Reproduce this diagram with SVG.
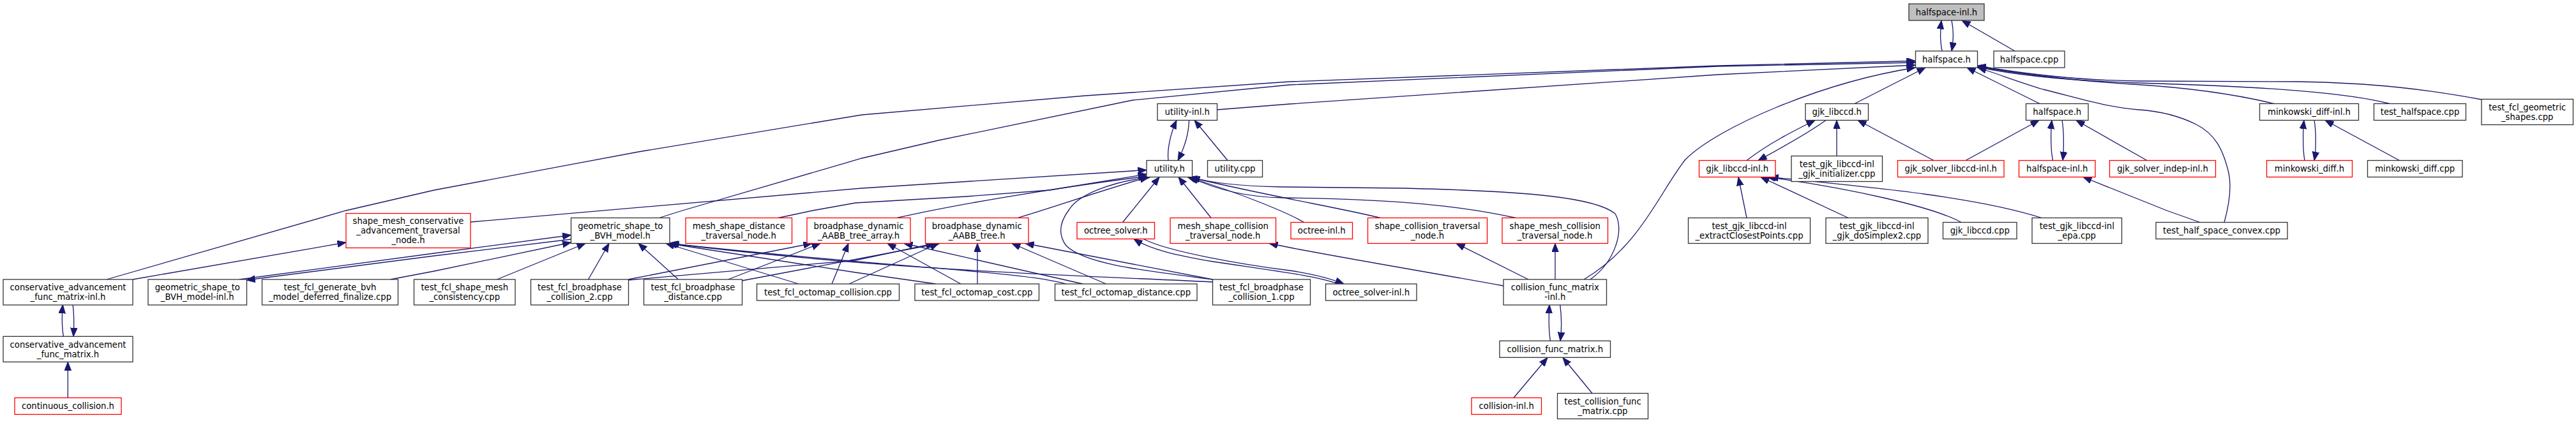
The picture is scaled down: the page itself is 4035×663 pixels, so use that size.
<svg xmlns="http://www.w3.org/2000/svg" width="4035" height="663" viewBox="0 0 4035 663">
<style>
.node rect{fill:#fff;stroke:#333;stroke-width:1.3}
.red rect{stroke:#ff0000}
.root rect{fill:#bfbfbf}
.node text{font-family:"DejaVu Sans",sans-serif;font-size:13.2px;text-anchor:middle;fill:#000}
.edges path{fill:none;stroke:#191970;stroke-width:1.3;marker-end:url(#a)}
</style>
<defs>
<marker id="a" markerUnits="userSpaceOnUse" markerWidth="15" markerHeight="12" refX="13.5" refY="5.25" orient="auto"><path d="M0,0 L13.5,5.25 L0,10.5 z" fill="#191970" stroke="#191970" stroke-width="1"/></marker>
</defs>
<rect width="4035" height="663" fill="#fff"/>
<g class="edges">
<path d="M3042,80 C3039,66 3039,48 3041,32"/>
<path d="M3057,32 C3060,46 3060,64 3057,80"/>
<path d="M3156,80 L3073,32"/>
<path d="M167,438 L542,330 L680,298 L1000,238 L1350,180 L1700,150 L2020,128 L2690,103 L3000,95.5"/>
<path d="M1034,341 L1069,330 L1350,248 L1470,220 L1774,157 L2020,133 L2690,104 L3000,98"/>
<path d="M1906,172 L2020,163 L2690,117 L3000,102"/>
<path d="M2481,438 C2570,385 2600,300 2640,250 C2690,200 2850,130 3000,106"/>
<path d="M2905,162.5 L3016,106"/>
<path d="M3195,162.5 L3081,106"/>
<path d="M3562,162.5 Q3470,140 3340,132 T3097,104"/>
<path d="M3743,162.5 C3680,146 3560,136 3350,130 C3250,127 3160,118 3097,105"/>
<path d="M3887,156 C3800,140 3720,130 3600,128 L3350,127 C3250,126 3160,114 3097,103"/>
<path d="M3484,348.5 C3492,320 3496,290 3490,267 C3482,235 3470,210 3440,195 C3410,180 3380,174 3350,172 C3300,168 3260,155 3200,140 C3160,128 3130,116 3098,106"/>
<path d="M2736,251.5 C2770,225 2810,205 2843,188.5"/>
<path d="M2860,188.5 C2830,210 2790,232 2754,251.5"/>
<path d="M2877,244.5 L2877,188.5"/>
<path d="M3029,251.5 L2910,188.5"/>
<path d="M3079,251.5 L3194,188.5"/>
<path d="M3215.5,251.5 C3212,235 3212,205 3214,188.5"/>
<path d="M3230,188.5 C3233,205 3233,235 3231,251.5"/>
<path d="M3363,251.5 L3252,188.5"/>
<path d="M3610,251.5 C3607,235 3607,205 3609,188.5"/>
<path d="M3625,188.5 C3628,205 3628,235 3625,251.5"/>
<path d="M3758.5,251.5 L3642,188.5"/>
<path d="M3446,348.5 L3394,330 L3263,277.5"/>
<path d="M2736,341.5 L2723,277.5"/>
<path d="M2895,341.5 L2758,277.5"/>
<path d="M3072,348.5 C3030,325 2900,295 2768,277.5"/>
<path d="M3198,341.5 C3100,310 2950,295 2772,277.5"/>
<path d="M1830,251.5 C1828,235 1833,210 1843,188.5"/>
<path d="M1862.5,188.5 C1862,210 1855,232 1845,251.5"/>
<path d="M1923,251.5 L1871,188.5"/>
<path d="M737,348 L1350,295 L1796,266.5"/>
<path d="M1219,341.5 L1273,330 L1340,318 L1513,308 L1644,298 L1796,273"/>
<path d="M1405,341.5 C1500,320 1650,295 1797,276"/>
<path d="M1594,341.5 C1650,325 1720,300 1799,277.5"/>
<path d="M1758.5,348.5 L1816,277.5"/>
<path d="M1897,341.5 L1846,277.5"/>
<path d="M1899.5,438 C1800,425 1700,415 1670,385 C1655,365 1662,345 1675,328 C1690,305 1740,285 1802,277.5"/>
<path d="M2042.5,348.5 C2020,335 1950,305 1860,277.5"/>
<path d="M2162,341.5 C2100,326 2000,310 1862,277.5"/>
<path d="M2374,341.5 C2300,325 2200,312 2010,310 C1950,309 1900,295 1864,277.5"/>
<path d="M2491,438 C2530,410 2545,360 2530,335 C2500,310 2400,300 2200,295 L2010,293 C1950,292 1900,288 1866,277.5"/>
<path d="M2394,438 L2281,381.5"/>
<path d="M2436,438 L2436,381.5"/>
<path d="M2355,448 C2200,420 2050,395 1988,381.5"/>
<path d="M2428.5,534.3 C2426,520 2426,495 2427,477.7"/>
<path d="M2443.7,477.7 C2446,495 2446,518 2444,534.3"/>
<path d="M2371,623.5 L2424,560.5"/>
<path d="M2494,616.5 L2448,560.5"/>
<path d="M99.3,527.3 C97,512 97,492 98.4,477.7"/>
<path d="M114,477.7 C116,492 116,512 115,527.3"/>
<path d="M106.3,623.5 L106.3,567.3"/>
<path d="M208,438 L542,380"/>
<path d="M375,438 L680,397 L894.5,368.5"/>
<path d="M894.5,375 L680,401 L386,439"/>
<path d="M611.5,438 L680,425 L894.5,380"/>
<path d="M778.4,438 L917,381.5"/>
<path d="M921.5,438 L954,381.5"/>
<path d="M1062.5,438 L1000,381.5"/>
<path d="M1251,445 L1043,381.5"/>
<path d="M1466,445 L1340,427 L1046,381.5"/>
<path d="M1670,445 C1600,425 1400,420 1048,381.5"/>
<path d="M1900,442 C1700,432 1400,425 1050,381.5"/>
<path d="M984,438 L1272,381.5"/>
<path d="M1140.6,438 L1285,381.5"/>
<path d="M1303,445 L1329,381.5"/>
<path d="M1505,445 L1390,381.5"/>
<path d="M1696,445 L1416,381.5"/>
<path d="M984,439 L1340,408 L1464,381.5"/>
<path d="M1162,440 L1472,381.5"/>
<path d="M1330,445 L1470,381.5"/>
<path d="M1531,445 L1531,381.5"/>
<path d="M1732.5,445 L1585,381.5"/>
<path d="M1899.5,438 L1606,381.5"/>
<path d="M2096,445 C2060,432 2000,425 1900,410 C1840,400 1800,390 1776,374.5"/>
<path d="M1791,374.5 C1830,395 1950,415 2020,424 C2060,430 2085,437 2105,445"/>
</g>
<g id="n_root" class="node root"><rect x="2990" y="6" width="118" height="26"/><text x="3049" y="23.7">halfspace-inl.h</text></g>
<g id="n_hs_h" class="node"><rect x="3000.5" y="80" width="97" height="26"/><text x="3049" y="97.7">halfspace.h</text></g>
<g id="n_hs_cpp" class="node"><rect x="3123" y="80" width="111" height="26"/><text x="3178.5" y="97.7">halfspace.cpp</text></g>
<g id="n_util_inl" class="node"><rect x="1813" y="162.5" width="93.5" height="26"/><text x="1859.75" y="180.2">utility-inl.h</text></g>
<g id="n_gjk_h" class="node"><rect x="2828" y="162.5" width="98.5" height="26"/><text x="2877.25" y="180.2">gjk_libccd.h</text></g>
<g id="n_hs2_h" class="node"><rect x="3173.5" y="162.5" width="97.5" height="26"/><text x="3222.25" y="180.2">halfspace.h</text></g>
<g id="n_mink_inl" class="node"><rect x="3539.5" y="162.5" width="155" height="26"/><text x="3617" y="180.2">minkowski_diff-inl.h</text></g>
<g id="n_test_hs" class="node"><rect x="3718.5" y="162.5" width="144" height="26"/><text x="3790.5" y="180.2">test_halfspace.cpp</text></g>
<g id="n_test_geom" class="node"><rect x="3887" y="155.5" width="143.5" height="40"/><text x="3958.75" y="172.7">test_fcl_geometric</text><text x="3958.75" y="187.7">_shapes.cpp</text></g>
<g id="n_util_h" class="node"><rect x="1796" y="251.5" width="71.5" height="26"/><text x="1831.75" y="269.2">utility.h</text></g>
<g id="n_util_cpp" class="node"><rect x="1891.5" y="251.5" width="86" height="26"/><text x="1934.5" y="269.2">utility.cpp</text></g>
<g id="n_gjk_inl" class="node red"><rect x="2661.5" y="251.5" width="119.5" height="26"/><text x="2721.25" y="269.2">gjk_libccd-inl.h</text></g>
<g id="n_test_gjk_init" class="node"><rect x="2806" y="244.5" width="142.5" height="40"/><text x="2877.25" y="261.7">test_gjk_libccd-inl</text><text x="2877.25" y="276.7">_gjk_initializer.cpp</text></g>
<g id="n_gjk_sl" class="node red"><rect x="2972.5" y="251.5" width="166.5" height="26"/><text x="3055.75" y="269.2">gjk_solver_libccd-inl.h</text></g>
<g id="n_hs_inl2" class="node red"><rect x="3162.5" y="251.5" width="119.5" height="26"/><text x="3222.25" y="269.2">halfspace-inl.h</text></g>
<g id="n_gjk_si" class="node red"><rect x="3304.5" y="251.5" width="166" height="26"/><text x="3387.5" y="269.2">gjk_solver_indep-inl.h</text></g>
<g id="n_mink_h" class="node red"><rect x="3550.5" y="251.5" width="134" height="26"/><text x="3617.5" y="269.2">minkowski_diff.h</text></g>
<g id="n_mink_cpp" class="node"><rect x="3708.5" y="251.5" width="148.5" height="26"/><text x="3782.75" y="269.2">minkowski_diff.cpp</text></g>
<g id="n_smca" class="node red"><rect x="542" y="334.5" width="195" height="54"/><text x="639.5" y="351.2">shape_mesh_conservative</text><text x="639.5" y="366.2">_advancement_traversal</text><text x="639.5" y="381.2">_node.h</text></g>
<g id="n_geom" class="node"><rect x="894.5" y="341.5" width="154.5" height="40"/><text x="971.75" y="358.7">geometric_shape_to</text><text x="971.75" y="373.7">_BVH_model.h</text></g>
<g id="n_msd" class="node red"><rect x="1074" y="341.5" width="166.5" height="40"/><text x="1157.25" y="358.7">mesh_shape_distance</text><text x="1157.25" y="373.7">_traversal_node.h</text></g>
<g id="n_bpa" class="node red"><rect x="1264" y="341.5" width="162" height="40"/><text x="1345" y="358.7">broadphase_dynamic</text><text x="1345" y="373.7">_AABB_tree_array.h</text></g>
<g id="n_bpt" class="node red"><rect x="1449.5" y="341.5" width="161.5" height="40"/><text x="1530.25" y="358.7">broadphase_dynamic</text><text x="1530.25" y="373.7">_AABB_tree.h</text></g>
<g id="n_oct_s" class="node red"><rect x="1687" y="348.5" width="121.5" height="26"/><text x="1747.75" y="366.2">octree_solver.h</text></g>
<g id="n_msc" class="node red"><rect x="1833" y="341.5" width="165.5" height="40"/><text x="1915.75" y="358.7">mesh_shape_collision</text><text x="1915.75" y="373.7">_traversal_node.h</text></g>
<g id="n_oct_inl" class="node red"><rect x="2022" y="348.5" width="96.5" height="26"/><text x="2070.25" y="366.2">octree-inl.h</text></g>
<g id="n_scn" class="node red"><rect x="2142.5" y="341.5" width="187" height="40"/><text x="2236" y="358.7">shape_collision_traversal</text><text x="2236" y="373.7">_node.h</text></g>
<g id="n_smc" class="node red"><rect x="2353" y="341.5" width="165.5" height="40"/><text x="2435.75" y="358.7">shape_mesh_collision</text><text x="2435.75" y="373.7">_traversal_node.h</text></g>
<g id="n_tg_ecp" class="node"><rect x="2644.5" y="341.5" width="191" height="40"/><text x="2740" y="358.7">test_gjk_libccd-inl</text><text x="2740" y="373.7">_extractClosestPoints.cpp</text></g>
<g id="n_tg_dos" class="node"><rect x="2860" y="341.5" width="160" height="40"/><text x="2940" y="358.7">test_gjk_libccd-inl</text><text x="2940" y="373.7">_gjk_doSimplex2.cpp</text></g>
<g id="n_gjk_cpp" class="node"><rect x="3043.5" y="348.5" width="115.5" height="26"/><text x="3101.25" y="366.2">gjk_libccd.cpp</text></g>
<g id="n_tg_epa" class="node"><rect x="3183" y="341.5" width="140.5" height="40"/><text x="3253.25" y="358.7">test_gjk_libccd-inl</text><text x="3253.25" y="373.7">_epa.cpp</text></g>
<g id="n_thsc" class="node"><rect x="3377" y="348.5" width="206" height="26"/><text x="3480" y="366.2">test_half_space_convex.cpp</text></g>
<g id="n_ca_inl" class="node"><rect x="5" y="438" width="203" height="40"/><text x="106.5" y="455.2">conservative_advancement</text><text x="106.5" y="470.2">_func_matrix-inl.h</text></g>
<g id="n_geom_inl" class="node"><rect x="232" y="438" width="154.5" height="40"/><text x="309.25" y="455.2">geometric_shape_to</text><text x="309.25" y="470.2">_BVH_model-inl.h</text></g>
<g id="n_tgen" class="node"><rect x="410.5" y="438" width="213" height="40"/><text x="517" y="455.2">test_fcl_generate_bvh</text><text x="517" y="470.2">_model_deferred_finalize.cpp</text></g>
<g id="n_tsm" class="node"><rect x="648.5" y="438" width="158.5" height="40"/><text x="727.75" y="455.2">test_fcl_shape_mesh</text><text x="727.75" y="470.2">_consistency.cpp</text></g>
<g id="n_tbp2" class="node"><rect x="831.5" y="438" width="153" height="40"/><text x="908" y="455.2">test_fcl_broadphase</text><text x="908" y="470.2">_collision_2.cpp</text></g>
<g id="n_tbpd" class="node"><rect x="1008.5" y="438" width="154" height="40"/><text x="1085.5" y="455.2">test_fcl_broadphase</text><text x="1085.5" y="470.2">_distance.cpp</text></g>
<g id="n_toc" class="node"><rect x="1185.5" y="445" width="223" height="26"/><text x="1297" y="462.7">test_fcl_octomap_collision.cpp</text></g>
<g id="n_tocost" class="node"><rect x="1433" y="445" width="194.5" height="26"/><text x="1530.25" y="462.7">test_fcl_octomap_cost.cpp</text></g>
<g id="n_tod" class="node"><rect x="1652.5" y="445" width="222.5" height="26"/><text x="1763.75" y="462.7">test_fcl_octomap_distance.cpp</text></g>
<g id="n_tbp1" class="node"><rect x="1899.5" y="438" width="153" height="40"/><text x="1976" y="455.2">test_fcl_broadphase</text><text x="1976" y="470.2">_collision_1.cpp</text></g>
<g id="n_osi" class="node"><rect x="2076.5" y="445" width="142.5" height="26"/><text x="2147.75" y="462.7">octree_solver-inl.h</text></g>
<g id="n_cfmi" class="node"><rect x="2355" y="438" width="161.5" height="40"/><text x="2435.75" y="455.2">collision_func_matrix</text><text x="2435.75" y="470.2">-inl.h</text></g>
<g id="n_ca_h" class="node"><rect x="5" y="527.3" width="203" height="40"/><text x="106.5" y="544.5">conservative_advancement</text><text x="106.5" y="559.5">_func_matrix.h</text></g>
<g id="n_cfm_h" class="node"><rect x="2349" y="534.3" width="173.5" height="26"/><text x="2435.75" y="552">collision_func_matrix.h</text></g>
<g id="n_cc" class="node red"><rect x="23" y="623.5" width="167" height="26"/><text x="106.5" y="641.2">continuous_collision.h</text></g>
<g id="n_ci" class="node red"><rect x="2305" y="623.5" width="109.5" height="26"/><text x="2359.75" y="641.2">collision-inl.h</text></g>
<g id="n_tcfm" class="node"><rect x="2439.5" y="616.5" width="142" height="40"/><text x="2510.5" y="633.7">test_collision_func</text><text x="2510.5" y="648.7">_matrix.cpp</text></g>
</svg>
